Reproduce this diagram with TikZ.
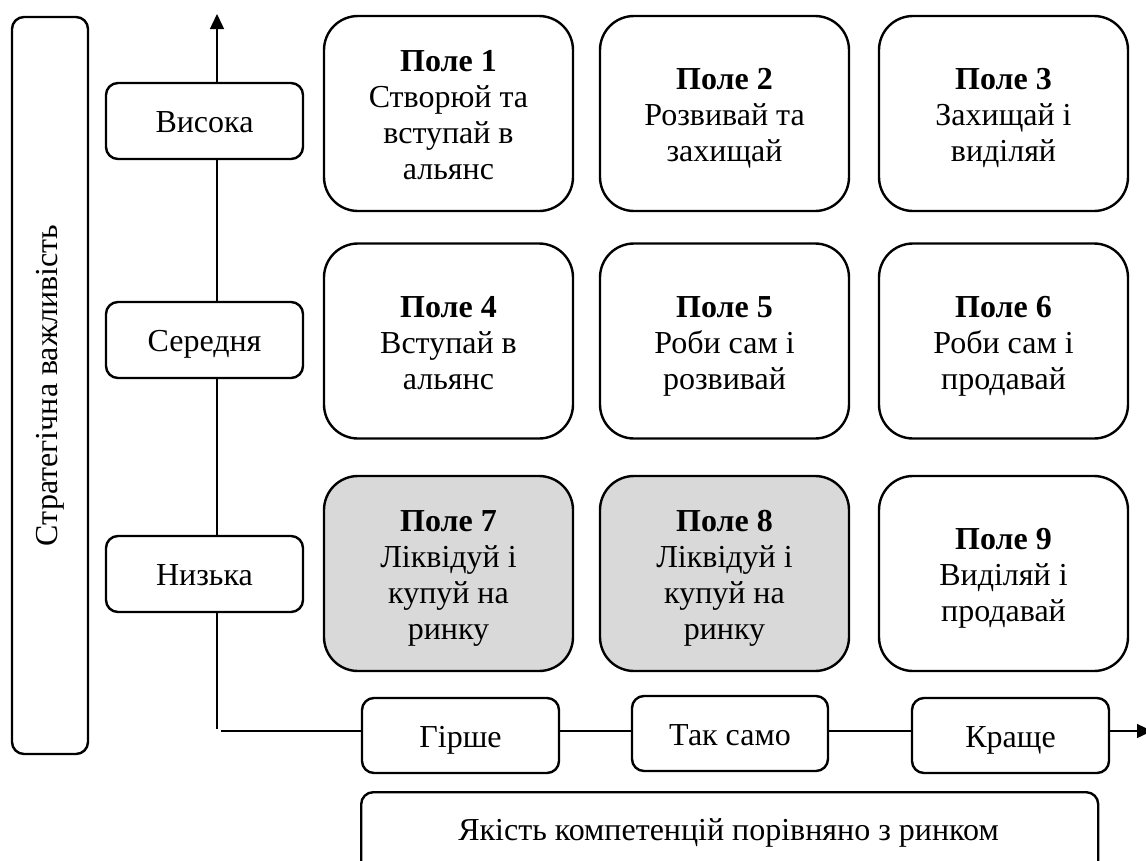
\documentclass[tikz,border=0pt]{standalone}
\usepackage{fontspec}
\setmainfont{Liberation Serif}
\usetikzlibrary{arrows.meta}
\definecolor{fieldgray}{HTML}{D9D9D9}
\newcommand\fstrut{\rule{0pt}{32pt}}
\newcommand\lstrut{\rule[-8pt]{0pt}{8pt}}
\begin{document}
\begin{tikzpicture}[x=1pt,y=-1pt,
  bigtext/.style={font=\fontsize{32}{36}\selectfont},
  field/.style={draw=black, line width=2.4pt, rounded corners=34pt, minimum width=249pt, minimum height=195pt, inner sep=0pt, align=center, fill=white, bigtext},
  grayfield/.style={field, fill=fieldgray},
  lbl/.style={draw=black, line width=2.4pt, rounded corners=12pt, minimum width=197pt, minimum height=76pt, inner sep=0pt, fill=white, bigtext, text height=23pt, text depth=0pt},
  axisline/.style={line width=1.4pt},
  tip/.style={-{Triangle[length=15pt,width=14pt]}}
]
\useasboundingbox (0,0) rectangle (1146,860);

% axes (behind the boxes)
\coordinate (vbot) at (217,729);
\coordinate (vtop) at (217,14);
\coordinate (hstart) at (221,731);
\coordinate (hend) at (1152,731);
\draw[axisline,tip] (vbot) -- (vtop);
\draw[axisline,tip] (hstart) -- (hend);

% left vertical title
\node[draw=black, line width=2.4pt, rounded corners=12pt, minimum width=76pt, minimum height=737pt, inner sep=0pt] (vtitle) at (50,385.5) {};
\node[bigtext, rotate=90, inner sep=0pt] (vtitletext) at (vtitle.center) {Стратегічна важливість};

% row labels
\node[lbl] (high) at (204.5,121) {Висока};
\node[lbl] (mid) at (204.5,340) {Середня};
\node[lbl] (low) at (204.5,574) {Низька};

% fields
\node[field] (f1) at (448.5,113.5) {\fstrut\textbf{Поле 1}\\Створюй та\\вступай в\\альянс\lstrut};
\node[field] (f2) at (724.5,113.5) {\fstrut\textbf{Поле 2}\\Розвивай та\\захищай\lstrut};
\node[field] (f3) at (1003.5,113.5) {\fstrut\textbf{Поле 3}\\Захищай і\\виділяй\lstrut};
\node[field] (f4) at (448.5,341) {\fstrut\textbf{Поле 4}\\Вступай в\\альянс\lstrut};
\node[field] (f5) at (724.5,341) {\fstrut\textbf{Поле 5}\\Роби сам і\\розвивай\lstrut};
\node[field] (f6) at (1003.5,341) {\fstrut\textbf{Поле 6}\\Роби сам і\\продавай\lstrut};
\node[grayfield] (f7) at (448.5,573.5) {\fstrut\textbf{Поле 7}\\Ліквідуй і\\купуй на\\ринку\lstrut};
\node[grayfield] (f8) at (724.5,573.5) {\fstrut\textbf{Поле 8}\\Ліквідуй і\\купуй на\\ринку\lstrut};
\node[field] (f9) at (1003.5,573.5) {\fstrut\textbf{Поле 9}\\Виділяй і\\продавай\lstrut};

% column labels
\node[lbl, minimum height=75pt] (worse) at (460.5,735.5) {Гірше};
\node[lbl, minimum height=75pt, minimum width=196pt] (same) at (730,733.5) {Так само};
\node[lbl, minimum height=75pt] (better) at (1010.5,735.5) {Краще};

% bottom title
\node[draw=black, line width=2.4pt, rounded corners=12pt, minimum width=737pt, minimum height=100pt, inner sep=0pt, anchor=north west] (htitle) at (360,791) {};
\node[bigtext, inner sep=0pt, anchor=base] (htitletext) at (728.5,840) {Якість компетенцій порівняно з ринком};
\end{tikzpicture}
\end{document}
